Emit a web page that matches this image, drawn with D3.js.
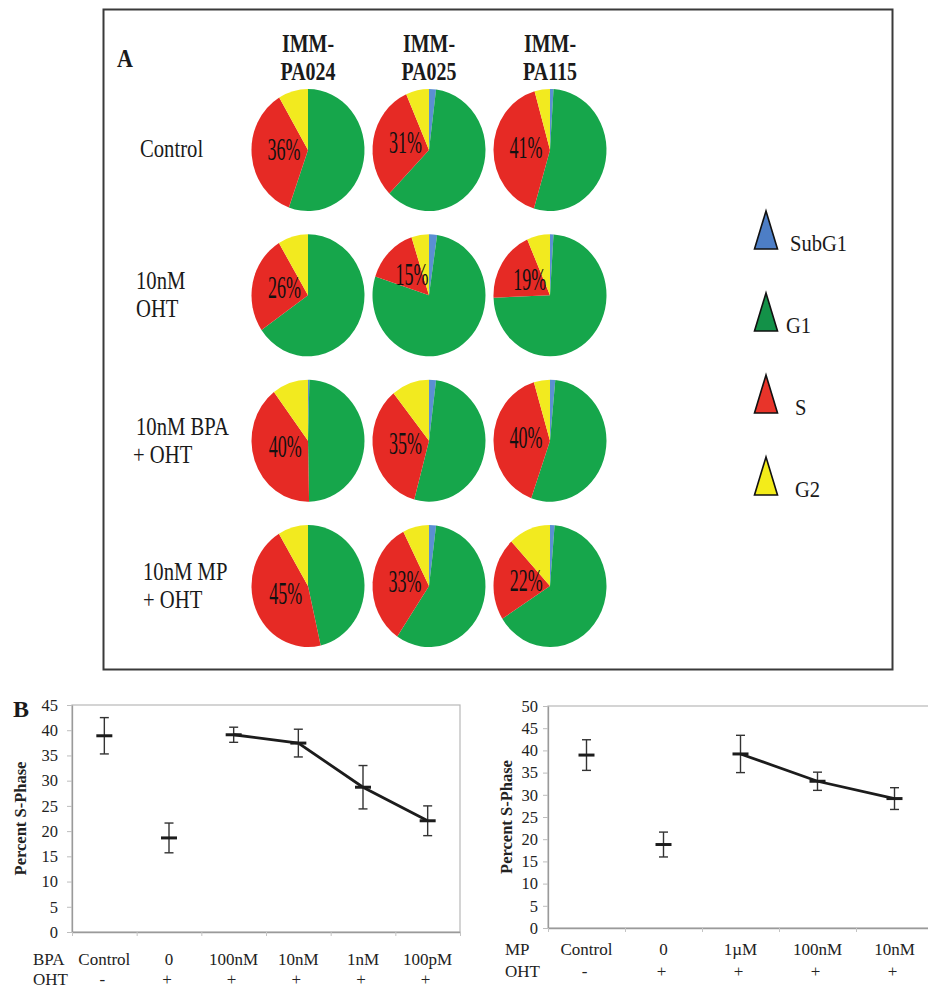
<!DOCTYPE html>
<html lang="en">
<head>
<meta charset="UTF-8">
<title>Cell cycle phases and S-phase response</title>
<script src="https://d3js.org/d3.v7.min.js"></script>
<style>
  body { margin: 0; background: #fff; }
  svg { display: block; font-family: "Liberation Serif", "Times New Roman", serif; }
</style>
</head>
<body>
<svg width="928" height="990"></svg>
<script>
// ---- panel A data (percent of cells in each phase) ----
const cellLines = ["PA024", "PA025", "PA115"];
const treatments = ["Control", "10nM OHT", "10nM BPA + OHT", "10nM MP + OHT"];
const treatmentLines = [["Control"], ["10nM", "OHT"], ["10nM BPA", "+ OHT"], ["10nM MP", "+ OHT"]];
const phases = ["SubG1", "G1", "S", "G2"];
// rows = treatments, columns = cell lines
const subG1 = [[0, 2, 1], [0, 2.3, 1], [0.4, 2, 1.5], [0, 2, 1.3]];
const g1 = [[55.5, 60.4, 53.6], [65.4, 77.7, 73.4], [49.3, 52.2, 53.9], [46.4, 57.5, 64.7]];
const sPhase = [[36, 31, 41], [26, 15, 19], [40, 35, 40], [45, 33, 22]];
const g2 = [[8.5, 6.6, 4.4], [8.6, 5, 6.6], [10.3, 10.8, 4.6], [8.6, 7.5, 12]];

// ---- panel B data ----
const bpaCats = ["Control", "0", "100nM", "10nM", "1nM", "100pM"];
const bpaOHT = ["-", "+", "+", "+", "+", "+"];
const bpaMean = [38.9, 18.65, 39.1, 37.45, 28.7, 22.05];
const bpaErr = [3.6, 2.95, 1.5, 2.75, 4.3, 2.95];
const bpaTicks = [0, 5, 10, 15, 20, 25, 30, 35, 40, 45];

const mpCats = ["Control", "0", "1\u00b5M", "100nM", "10nM"];
const mpOHT = ["-", "+", "+", "+", "+"];
const mpMean = [38.95, 18.8, 39.2, 33.05, 29.15];
const mpErr = [3.45, 2.8, 4.2, 2.05, 2.45];
const mpTicks = [0, 5, 10, 15, 20, 25, 30, 35, 40, 45, 50];

const pieColor = d3.scaleOrdinal().domain(phases).range(["#5b8fd3", "#16a64b", "#e62a25", "#f2ea1f"]);
const legendColor = d3.scaleOrdinal().domain(phases).range(["#4d7ec6", "#139148", "#e8342a", "#f3ec1a"]);

const svg = d3.select("svg");

// stretched serif text, like the scanned figure
function stext(parent, x, y, str, size, sx, sy, opts = {}) {
  return parent.append("text")
    .attr("transform", `translate(${x},${y}) scale(${sx},${sy})`)
    .attr("font-size", size + "px")
    .attr("font-weight", opts.bold ? "bold" : "normal")
    .attr("text-anchor", opts.anchor || "start")
    .attr("fill", opts.fill || "#1a1a1a")
    .text(str);
}

// ================= Panel A =================
svg.append("rect")
  .attr("x", 103.5).attr("y", 9.5)
  .attr("width", 789).attr("height", 660)
  .attr("fill", "none").attr("stroke", "#3a3a3a").attr("stroke-width", 2);

stext(svg, 117, 67, "A", 22, 1, 1.1, { bold: true });

const colX = d3.scalePoint().domain(cellLines).range([308, 550]);
const rowY = d3.scalePoint().domain(treatments).range([150, 586]);
const R = 56.5, squash = 1.08;

cellLines.forEach(c => {
  stext(svg, colX(c), 52, "IMM-", 21, 0.95, 1.18, { bold: true, anchor: "middle" });
  stext(svg, colX(c), 80, c, 21, 0.95, 1.18, { bold: true, anchor: "middle" });
});

treatmentLines.forEach((lines, i) => {
  const cy = rowY(treatments[i]);
  if (lines.length === 1) {
    stext(svg, 140, cy + 7, lines[0], 22, 0.94, 1.15);
  } else {
    const x0 = i === 3 ? 143 : 136;
    stext(svg, x0, cy - 6, lines[0], 22, 0.94, 1.15);
    stext(svg, x0 - (i === 2 ? 3 : 0), cy + 22, lines[1], 22, 0.94, 1.15);
  }
});

const pie = d3.pie().sort(null).value(d => d.v);
const arc = d3.arc().innerRadius(0).outerRadius(R);
const labelArc = d3.arc().innerRadius(24).outerRadius(24);
const series = [subG1, g1, sPhase, g2];

treatments.forEach((t, i) => {
  cellLines.forEach((c, j) => {
    const vals = phases.map((p, k) => ({ phase: p, v: series[k][i][j] }));
    const arcs = pie(vals);
    const cx = colX(c), cy = rowY(t);
    const g = svg.append("g").attr("transform", `translate(${cx},${cy}) scale(1,${squash})`);
    g.selectAll("path")
      .data(arcs.filter(a => a.data.v > 0))
      .join("path")
      .attr("d", arc)
      .attr("fill", a => pieColor(a.data.phase));
    const sArc = arcs.find(a => a.data.phase === "S");
    const [lx, ly] = labelArc.centroid(sArc);
    stext(svg, cx + lx, cy + ly * squash + 8, sPhase[i][j] + "%", 24, 0.75, 1.33, { anchor: "middle", fill: "#111" });
  });
});

// legend
const legY = d3.scalePoint().domain(phases).range([249, 495]);
const tri = d3.line();
phases.forEach(p => {
  const by = legY(p);
  svg.append("path")
    .attr("d", tri([[754.5, by], [766, by - 38], [777.5, by]]) + "Z")
    .attr("fill", legendColor(p))
    .attr("stroke", "#111")
    .attr("stroke-width", 1.6)
    .attr("stroke-linejoin", "miter");
  stext(svg, p === "SubG1" ? 790 : (p === "G1" ? 786 : 795), by + 2, p, 21, 0.98, 1.13);
});

// ================= Panel B =================
stext(svg, 13, 717, "B", 24, 1, 1, { bold: true });

function drawChart(o) {
  const x = d3.scaleBand().domain(o.cats).range([o.left, o.right]);
  const xb = d3.scaleLinear().domain([0, o.cats.length]).range([o.left, o.right]);
  const y = d3.scaleLinear().domain([0, o.ymax]).range([o.bottom, o.top]);
  const g = svg.append("g");

  g.append("rect")
    .attr("x", o.left).attr("y", o.top)
    .attr("width", o.right - o.left).attr("height", o.bottom - o.top)
    .attr("fill", "none").attr("stroke", "#b8b8b8").attr("stroke-width", 1.2);

  const ya = g.append("g")
    .attr("transform", `translate(${o.left},0)`)
    .call(d3.axisLeft(y).tickValues(o.ticks).tickSize(5).tickSizeOuter(0).tickPadding(o.tickPad));
  ya.select(".domain").attr("stroke", "#9a9a9a").attr("stroke-width", 1.3);
  ya.selectAll(".tick line").attr("stroke", "#bdbdbd");
  ya.selectAll(".tick text")
    .attr("font-family", "'Liberation Serif', serif")
    .attr("font-size", "16.5px").attr("fill", "#222");

  const xa = g.append("g")
    .attr("transform", `translate(0,${o.bottom})`)
    .call(d3.axisBottom(xb).tickValues(d3.range(o.cats.length + 1)).tickFormat("").tickSize(4).tickSizeOuter(0));
  xa.select(".domain").attr("stroke", "#9a9a9a").attr("stroke-width", 1.3);
  xa.selectAll(".tick line").attr("stroke", "#c4c4c4");

  const cx = c => x(c) + x.bandwidth() / 2;

  // connecting line for the dose series
  const lineIdx = d3.range(2, o.cats.length);
  g.append("path")
    .attr("d", d3.line().x(i => cx(o.cats[i])).y(i => y(o.mean[i]))(lineIdx))
    .attr("fill", "none").attr("stroke", "#1c1c1c").attr("stroke-width", 2.8);

  // error bars
  o.cats.forEach((c, i) => {
    const xx = cx(c), hi = y(o.mean[i] + o.err[i]), lo = y(o.mean[i] - o.err[i]);
    g.append("line").attr("x1", xx).attr("x2", xx).attr("y1", hi).attr("y2", lo)
      .attr("stroke", "#333").attr("stroke-width", 1.4);
    [hi, lo].forEach(v => g.append("line")
      .attr("x1", xx - 4.5).attr("x2", xx + 4.5).attr("y1", v).attr("y2", v)
      .attr("stroke", "#333").attr("stroke-width", 1.4));
    g.append("line")
      .attr("x1", xx - 8).attr("x2", xx + 8)
      .attr("y1", y(o.mean[i])).attr("y2", y(o.mean[i]))
      .attr("stroke", "#1c1c1c").attr("stroke-width", 3);
  });

  // category rows under the axis
  g.append("text").attr("x", o.labelX).attr("y", o.catY).attr("font-size", "17px").attr("fill", "#222").text(o.agent);
  g.append("text").attr("x", o.labelX).attr("y", o.ohtY).attr("font-size", "17px").attr("fill", "#222").text("OHT");
  o.cats.forEach((c, i) => {
    g.append("text").attr("x", cx(c)).attr("y", o.catY).attr("text-anchor", "middle")
      .attr("font-size", "17px").attr("fill", "#222").text(c);
    g.append("text").attr("x", cx(c) - 2).attr("y", o.ohtY).attr("text-anchor", "middle")
      .attr("font-size", "17px").attr("fill", "#222").text(o.oht[i]);
  });

  g.append("text")
    .attr("transform", `translate(${o.titleX},${(o.top + o.bottom) / 2}) rotate(-90)`)
    .attr("text-anchor", "middle").attr("font-weight", "bold")
    .attr("font-size", "16.5px").attr("fill", "#222")
    .text("Percent S-Phase");
}

drawChart({
  cats: bpaCats, oht: bpaOHT, mean: bpaMean, err: bpaErr, ticks: bpaTicks, ymax: 45,
  left: 72, right: 460, top: 705, bottom: 932, tickPad: 9,
  agent: "BPA", labelX: 33, catY: 965, ohtY: 985, titleX: 26
});

drawChart({
  cats: mpCats, oht: mpOHT, mean: mpMean, err: mpErr, ticks: mpTicks, ymax: 50,
  left: 548, right: 933, top: 706, bottom: 928, tickPad: 5,
  agent: "MP", labelX: 505, catY: 955, ohtY: 977, titleX: 512
});
</script>
</body>
</html>
